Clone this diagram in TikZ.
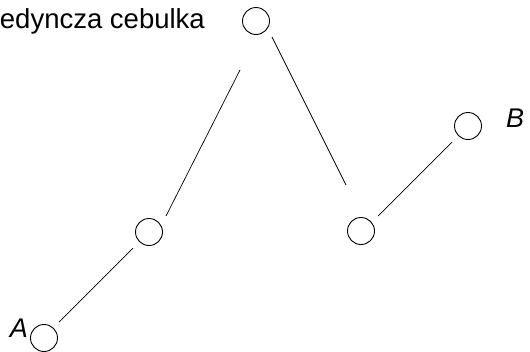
\documentclass[tikz,border=0pt]{standalone}
\usepackage{fontspec}
\setmainfont{Liberation Sans}
\begin{document}
\begin{tikzpicture}[x=1pt,y=-1pt,
  bulb/.style={circle,draw,line width=0.9pt,minimum size=27pt,inner sep=0pt},
  link/.style={line width=0.7pt},
  lbl/.style={font=\fontsize{27}{32}\selectfont\itshape,inner sep=0pt},
  title/.style={font=\fontsize{27.5}{32}\selectfont,inner sep=0pt}]
\useasboundingbox (0,0) rectangle (530,351);
% circles
\node[bulb] (top) at (256,21) {};
\node[bulb] (lm) at (149,232) {};
\node[bulb] (a) at (44,338) {};
\node[bulb] (br) at (361,231) {};
\node[bulb] (b) at (468,126) {};
% labels
\node[title,anchor=base east] (t) at (205,28) {edyncza cebulka};
\node[lbl,anchor=base east] (la) at (28,337) {A};
\node[lbl,anchor=base west] (lb) at (506,127) {B};
% connector ends
\coordinate (a1) at (59,322);
\coordinate (a2) at (133,248);
\coordinate (m1) at (166,216);
\coordinate (m2) at (240,70);
\coordinate (t1) at (272,37);
\coordinate (t2) at (346,185);
\coordinate (r1) at (378,216);
\coordinate (r2) at (452,142);
\draw[link] (a1) -- (a2);
\draw[link] (m1) -- (m2);
\draw[link] (t1) -- (t2);
\draw[link] (r1) -- (r2);
\end{tikzpicture}
\end{document}
